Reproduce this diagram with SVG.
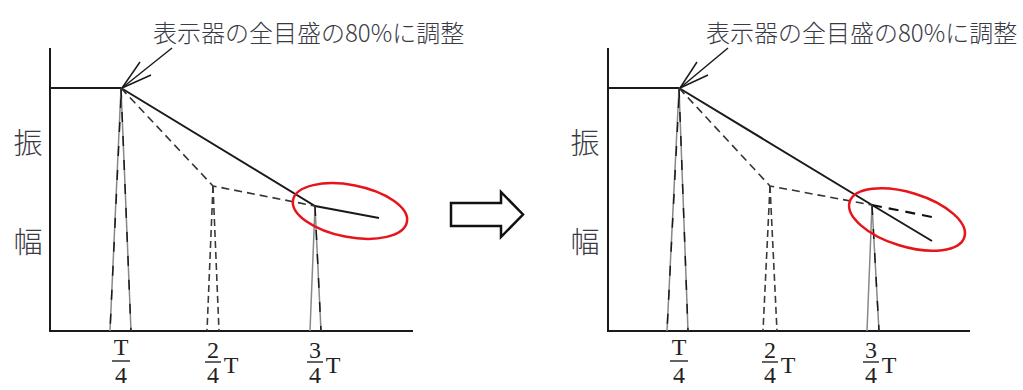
<svg xmlns="http://www.w3.org/2000/svg" width="1023" height="390" viewBox="0 0 1023 390">
<style>
.ax{stroke:#1a1a1a;stroke-width:2;fill:none}
.sol{stroke:#1a1a1a;stroke-width:2;fill:none}
.thin{stroke:#1a1a1a;stroke-width:1.5;fill:none}
.dash{stroke:#333;stroke-width:1.6;fill:none;stroke-dasharray:8 5}
.pk{stroke:#888;stroke-width:1.5;fill:none}
.pkd{stroke:#1a1a1a;stroke-width:1.5;fill:none;stroke-dasharray:10 14}
.pkdd{stroke:#3a3a3a;stroke-width:1.6;fill:none;stroke-dasharray:7 4}
.ell{stroke:#e8141b;stroke-width:2.5;fill:none}
.jp{font-family:"Noto Sans CJK JP","Noto Sans",sans-serif;fill:#3a3a44;font-weight:300}
.lbl{font-size:24px}
.ylab{font-size:29px;text-anchor:middle}
.num{font-family:"Liberation Serif","DejaVu Serif",serif;font-size:24px;fill:#222;text-anchor:middle}
.bar{stroke:#222;stroke-width:1.4}
</style>

<g id="panel-left">
  <g id="axes-left">
    <line class="ax" x1="50" y1="48" x2="50" y2="331"/>
    <line class="ax" x1="49" y1="331" x2="413" y2="331"/>
  </g>
  <g id="ylabel-left">
    <text class="jp ylab" x="28" y="154">振</text>
    <text class="jp ylab" x="28" y="253">幅</text>
  </g>
  <g id="title-left">
    <text class="jp lbl" x="153" y="42">表示器の全目盛の80%に調整</text>
  </g>
  <g id="connectors-left">
    <line class="sol" x1="50" y1="88" x2="121" y2="88"/>
    <line class="thin" x1="172" y1="48" x2="122" y2="88"/>
    <line class="thin" x1="140" y1="62" x2="122" y2="88"/>
    <line class="thin" x1="151" y1="75" x2="122" y2="88"/>
    <polyline class="sol" points="121,88 315,206 379,218"/>
    <polyline class="dash" points="121,88 213,186 315,206"/>
  </g>
  <g id="peaks-left">
    <line class="pk" x1="121" y1="88" x2="110" y2="331"/>
    <line class="pk" x1="121" y1="88" x2="131" y2="331"/>
    <line class="pkd" x1="121" y1="88" x2="131" y2="331"/>
    <line class="pkd" x1="121" y1="98" x2="110" y2="331"/>
    <line class="pkdd" x1="213" y1="186" x2="207" y2="331"/>
    <line class="pkdd" x1="213" y1="186" x2="219" y2="331"/>
    <line class="pk" x1="315" y1="206" x2="310" y2="331"/>
    <line class="pk" x1="315" y1="206" x2="321" y2="331"/>
    <line class="pkd" x1="315" y1="206" x2="321" y2="331"/>
  </g>
  <g id="highlight-left">
    <ellipse class="ell" cx="350" cy="211" rx="58" ry="26" transform="rotate(11 350 211)"/>
  </g>
  <g id="ticks-left">
    <text class="num" x="121" y="355">T</text>
    <line class="bar" x1="112" y1="361" x2="130" y2="361"/>
    <text class="num" x="121" y="383">4</text>
    <text class="num" x="213" y="358">2</text>
    <line class="bar" x1="205" y1="362" x2="221" y2="362"/>
    <text class="num" x="213" y="383">4</text>
    <text class="num" x="231" y="373">T</text>
    <text class="num" x="315" y="358">3</text>
    <line class="bar" x1="307" y1="362" x2="323" y2="362"/>
    <text class="num" x="315" y="383">4</text>
    <text class="num" x="333" y="373">T</text>
  </g>
</g>

<g id="block-arrow">
  <polygon points="451,203 501,203 501,192 523,214.5 501,237 501,226 451,226" fill="#fff" stroke="#111" stroke-width="2.5" stroke-linejoin="miter"/>
</g>

<g id="panel-right">
  <g id="axes-right">
    <line class="ax" x1="608" y1="48" x2="608" y2="331"/>
    <line class="ax" x1="607" y1="331" x2="970" y2="331"/>
  </g>
  <g id="ylabel-right">
    <text class="jp ylab" x="585" y="154">振</text>
    <text class="jp ylab" x="585" y="253">幅</text>
  </g>
  <g id="title-right">
    <text class="jp lbl" x="706" y="42">表示器の全目盛の80%に調整</text>
  </g>
  <g id="connectors-right">
    <line class="sol" x1="608" y1="88" x2="679" y2="88"/>
    <line class="thin" x1="728" y1="48" x2="680" y2="88"/>
    <line class="thin" x1="697" y1="62" x2="680" y2="88"/>
    <line class="thin" x1="708" y1="75" x2="680" y2="88"/>
    <polyline class="sol" points="679,88 872,205 932,241"/>
    <polyline class="dash" points="679,88 770,186 872,205"/>
    <line x1="872" y1="205" x2="937" y2="218" stroke="#111" stroke-width="2.2" stroke-dasharray="10 7"/>
  </g>
  <g id="peaks-right">
    <line class="pk" x1="679" y1="88" x2="667" y2="331"/>
    <line class="pk" x1="679" y1="88" x2="688" y2="331"/>
    <line class="pkd" x1="679" y1="88" x2="688" y2="331"/>
    <line class="pkd" x1="679" y1="98" x2="667" y2="331"/>
    <line class="pkdd" x1="770" y1="186" x2="763" y2="331"/>
    <line class="pkdd" x1="770" y1="186" x2="777" y2="331"/>
    <line class="pk" x1="872" y1="205" x2="867" y2="331"/>
    <line class="pk" x1="872" y1="205" x2="879" y2="331"/>
    <line class="pkd" x1="872" y1="205" x2="879" y2="331"/>
  </g>
  <g id="highlight-right">
    <ellipse class="ell" cx="907" cy="219.5" rx="60" ry="27" transform="rotate(17 907 219.5)"/>
  </g>
  <g id="ticks-right">
    <text class="num" x="679" y="355">T</text>
    <line class="bar" x1="670" y1="361" x2="688" y2="361"/>
    <text class="num" x="679" y="383">4</text>
    <text class="num" x="770" y="358">2</text>
    <line class="bar" x1="762" y1="362" x2="778" y2="362"/>
    <text class="num" x="770" y="383">4</text>
    <text class="num" x="788" y="373">T</text>
    <text class="num" x="871" y="358">3</text>
    <line class="bar" x1="863" y1="362" x2="879" y2="362"/>
    <text class="num" x="871" y="383">4</text>
    <text class="num" x="889" y="373">T</text>
  </g>
</g>
</svg>
